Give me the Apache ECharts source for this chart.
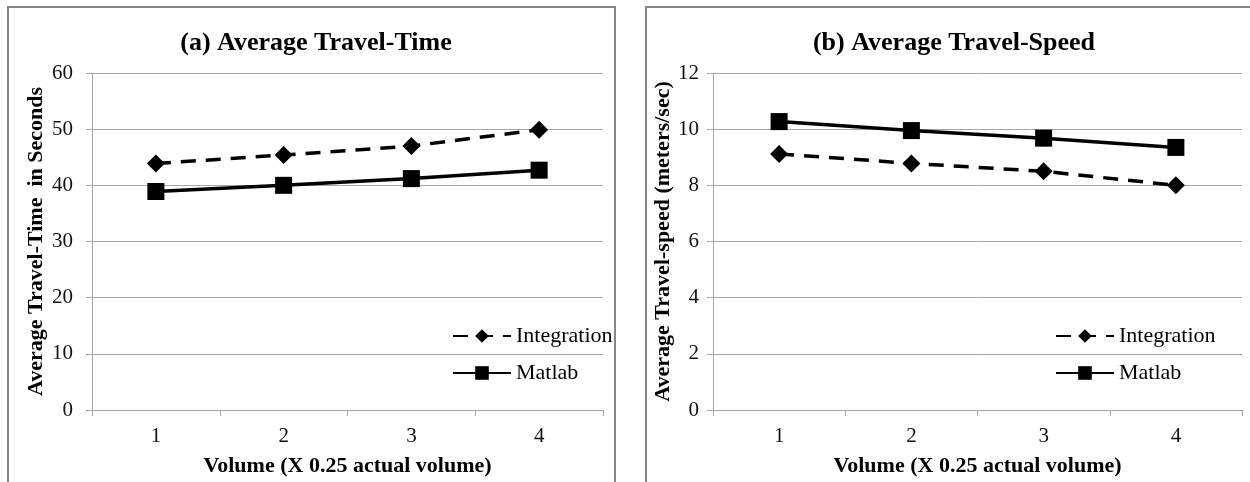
<!DOCTYPE html>
<html>
<head>
<meta charset="utf-8">
<script src="https://cdn.jsdelivr.net/npm/echarts@6/dist/echarts.min.js"></script>
<style>
  html, body { margin: 0; padding: 0; background: #fff; }
  #chart { width: 1250px; height: 482px; }
</style>
</head>
<body>
<div id="chart"></div>
<script>
// data
const volumes = ['1', '2', '3', '4'];
const timeIntegration = [43.9, 45.4, 47.0, 49.9];
const timeMatlab = [38.9, 40.0, 41.2, 42.7];
const speedIntegration = [9.12, 8.78, 8.5, 8.0];
const speedMatlab = [10.27, 9.95, 9.68, 9.35];

const serif = 'Liberation Serif';
const grey = '#a6a6a6';

function xAxisFor(gridIndex) {
    return {
        type: 'category',
        gridIndex: gridIndex,
        data: volumes,
        boundaryGap: true,
        name: 'Volume (X 0.25 actual volume)',
        nameLocation: 'middle',
        nameGap: 45,
        nameTextStyle: { fontFamily: serif, fontWeight: 'bold', fontSize: 22, color: '#000' },
        axisLine: { lineStyle: { color: grey, width: 1 } },
        axisTick: { show: true, interval: 0, length: 6, lineStyle: { color: grey } },
        axisLabel: { margin: 16, fontFamily: serif, fontSize: 21, color: '#111' },
        splitLine: { show: false }
    };
}

function yAxisFor(gridIndex, max, interval, name, nameGap, labelMargin) {
    return {
        type: 'value',
        gridIndex: gridIndex,
        min: 0,
        max: max,
        interval: interval,
        name: name,
        nameLocation: 'middle',
        nameGap: nameGap,
        nameTextStyle: { fontFamily: serif, fontWeight: 'bold', fontSize: 22, color: '#000' },
        axisLine: { show: true, lineStyle: { color: grey, width: 1 } },
        axisTick: { show: true, length: 6, lineStyle: { color: grey } },
        axisLabel: { margin: labelMargin, fontFamily: serif, fontSize: 21, color: '#111' },
        splitLine: { show: true, lineStyle: { color: grey, width: 1 } }
    };
}

function lineSeries(name, axisIndex, values, dashed) {
    return {
        name: name,
        type: 'line',
        xAxisIndex: axisIndex,
        yAxisIndex: axisIndex,
        data: values,
        symbol: dashed ? 'diamond' : 'rect',
        symbolSize: dashed ? 18 : 17,
        animation: false,
        itemStyle: { color: '#000' },
        lineStyle: { color: '#000', width: 3.5, type: dashed ? [15, 10] : 'solid' }
    };
}

function legendAt(left) {
    return {
        orient: 'vertical',
        left: left,
        top: 320,
        itemWidth: 58,
        itemHeight: 17,
        itemGap: 15,
        data: ['Integration', 'Matlab'],
        textStyle: { fontFamily: serif, fontSize: 22, color: '#000' }
    };
}

const chart = echarts.init(document.getElementById('chart'));
chart.setOption({
    backgroundColor: '#fff',
    animation: false,
    graphic: [
        { type: 'rect', shape: { x: 8, y: 7, width: 607, height: 500 },
          style: { fill: 'none', stroke: '#868686', lineWidth: 2 } },
        { type: 'rect', shape: { x: 646, y: 7, width: 610, height: 500 },
          style: { fill: 'none', stroke: '#868686', lineWidth: 2 } }
    ],
    title: [
        { text: '(a) Average Travel-Time', left: 311, top: 25, textAlign: 'center',
          textStyle: { fontFamily: serif, fontWeight: 'bold', fontSize: 26, color: '#000' } },
        { text: '(b) Average Travel-Speed', left: 949, top: 25, textAlign: 'center',
          textStyle: { fontFamily: serif, fontWeight: 'bold', fontSize: 26, color: '#000' } }
    ],
    legend: [legendAt(447), legendAt(1050)],
    grid: [
        { left: 92, right: 647, top: 73, bottom: 71 },
        { left: 713, right: 8, top: 73, bottom: 71 }
    ],
    xAxis: [xAxisFor(0), xAxisFor(1)],
    yAxis: [
        yAxisFor(0, 60, 10, 'Average Travel-Time  in Seconds', 45, 19),
        yAxisFor(1, 12, 2, 'Average Travel-speed (meters/sec)', 36, 14)
    ],
    series: [
        lineSeries('Integration', 0, timeIntegration, true),
        lineSeries('Matlab', 0, timeMatlab, false),
        lineSeries('Integration', 1, speedIntegration, true),
        lineSeries('Matlab', 1, speedMatlab, false)
    ]
});
</script>
</body>
</html>
